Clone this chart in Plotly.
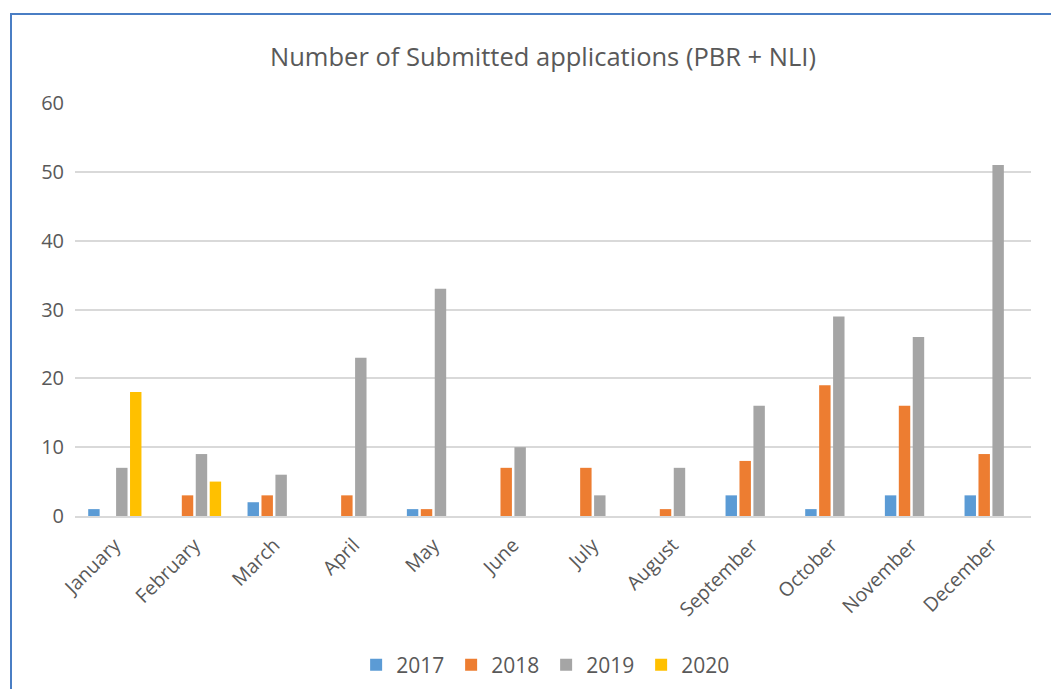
import plotly.graph_objects as go

months = ["January", "February", "March", "April", "May", "June", "July",
          "August", "September", "October", "November", "December"]
years = ["2017", "2018", "2019", "2020"]
v2017 = [1, 0, 2, 0, 1, 0, 0, 0, 3, 1, 3, 3]
v2018 = [0, 3, 3, 3, 1, 7, 7, 1, 8, 19, 16, 9]
v2019 = [7, 9, 6, 23, 33, 10, 3, 7, 16, 29, 26, 51]
v2020 = [18, 5, 0, 0, 0, 0, 0, 0, 0, 0, 0, 0]
colors = ["#5B9BD5", "#ED7D31", "#A5A5A5", "#FFC000"]

series = [v2017, v2018, v2019, v2020]
font_family = "'Open Sans', sans-serif"
txt = "#595959"

fig = go.Figure()
for name, vals, col in zip(years, series, colors):
    fig.add_trace(go.Bar(x=months, y=vals, name=name, marker_color=col,
                         marker_line_width=0))

# page offset of 8px (body margin) compensated
OFF = 8
W, H = 1059 - 2 * OFF, 697 - 2 * OFF
L = 75 - OFF
T = 103 - OFF
R = W - (1031 - OFF)
B = H - (516 - OFF)
pw = W - L - R
ph = H - T - B

def px(x):
    return (x - OFF - L) / pw

def py(y):
    return (H - B - (y - OFF)) / ph

fig.update_layout(
    width=W, height=H,
    margin=dict(l=L, r=R, t=T, b=B, autoexpand=False),
    paper_bgcolor="white", plot_bgcolor="white",
    font=dict(family=font_family, color=txt, size=17),
    title=dict(text="Number of Submitted applications (PBR + NLI)",
               x=(543 - OFF) / W, xanchor="center", y=1 - (57 - OFF) / H,
               yanchor="middle", font=dict(size=25.5, color=txt)),
    barmode="group", bargap=0.3, bargroupgap=0.18,
    xaxis=dict(tickangle=-45, showgrid=False, showline=True,
               linecolor="#D9D9D9", linewidth=2, ticks="",
               tickfont=dict(size=19.5, color=txt), ticklabelstandoff=8),
    yaxis=dict(range=[0, 60], dtick=10, gridcolor="#D9D9D9", gridwidth=2,
               zeroline=False, showline=False, ticks="",
               tickfont=dict(size=20, color=txt), ticklabelstandoff=10),
    legend=dict(orientation="h", x=(522 - OFF) / W, xanchor="center",
                y=py(665), yanchor="middle",
                font=dict(size=21, color=txt), itemwidth=30,
                entrywidth=50, entrywidthmode="pixels",
                traceorder="normal"),
    showlegend=True,
)

fig.add_shape(type="rect", xref="paper", yref="paper",
              x0=px(11), x1=px(1090), y0=py(730), y1=py(14),
              line=dict(color="#4A7EC4", width=2), fillcolor="rgba(0,0,0,0)",
              layer="above")

fig.write_html("out.html")
